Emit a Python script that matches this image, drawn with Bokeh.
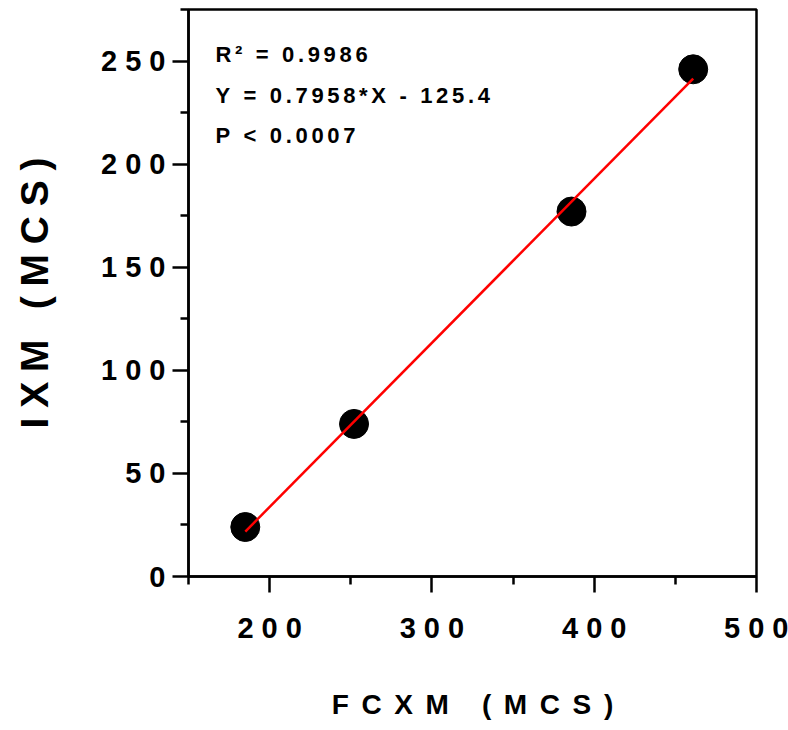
from bokeh.plotting import figure
from bokeh.models import FixedTicker, Range1d, Label
from bokeh.embed import file_html
from bokeh.resources import INLINE

# ---- data ----
fcxm = [185, 252, 386, 461]          # x values (MCS)
ixm = [24, 74, 177, 246]             # y values (MCS)
fit_x = [185, 461]                   # regression line end points (x)
fit_y = [21.8, 241.5]                # regression line end points (y)
x_ticks = [200, 300, 400, 500]
x_minor = [150, 250, 350, 450]
y_ticks = [0, 50, 100, 150, 200, 250]
y_minor = [25, 75, 125, 175, 225, 275]
stats = ["R² = 0.9986", "Y = 0.7958*X - 125.4", "P < 0.0007"]
x_title = "FCXM (MCS)"
y_title = "IXM (MCS)"

FONT = "Liberation Sans"


def spaced(s, sep):
    return sep.join(s)


p = figure(width=788, height=730, output_backend="svg", toolbar_location=None,
           x_range=Range1d(150, 500), y_range=Range1d(0, 275),
           min_border_left=188, min_border_right=32, min_border_top=9,
           min_border_bottom=154)

p.background_fill_color = "white"
p.border_fill_color = "white"
p.outline_line_color = "black"
p.outline_line_width = 2.5
p.xgrid.visible = False
p.ygrid.visible = False

p.xaxis.ticker = FixedTicker(ticks=x_ticks, minor_ticks=x_minor)
p.yaxis.ticker = FixedTicker(ticks=y_ticks, minor_ticks=y_minor)
p.xaxis.major_label_overrides = {t: spaced(str(t), " ") for t in x_ticks}
p.yaxis.major_label_overrides = {t: spaced(str(t), " ") for t in y_ticks}

for ax in (p.xaxis[0], p.yaxis[0]):
    ax.axis_line_color = "black"
    ax.axis_line_width = 2.5
    ax.major_tick_line_color = "black"
    ax.major_tick_line_width = 2.5
    ax.minor_tick_line_color = "black"
    ax.minor_tick_line_width = 2.5
    ax.major_tick_in = 0
    ax.major_tick_out = 16
    ax.minor_tick_in = 0
    ax.minor_tick_out = 8
    ax.major_label_text_font = FONT
    ax.major_label_text_font_style = "bold"
    ax.major_label_text_font_size = "29px"
    ax.major_label_text_color = "black"
    ax.axis_label_text_font = FONT
    ax.axis_label_text_font_style = "bold"
    ax.axis_label_text_color = "black"

p.xaxis.major_label_standoff = 19
p.yaxis.major_label_standoff = 7
p.xaxis.axis_label = spaced(x_title, "\u2009\u2005")
p.xaxis.axis_label_text_font_size = "28px"
p.xaxis.axis_label_standoff = 42
p.yaxis.axis_label = spaced(y_title, "\u2005")
p.yaxis.axis_label_text_font_size = "39px"
p.yaxis.axis_label_standoff = 42

# points, then the fit line drawn on top
p.scatter(fcxm, ixm, size=29, marker="circle", fill_color="black", line_color="black")
p.line(fit_x, fit_y, line_color="red", line_width=2.5)

stat_y = [253.2, 233.3, 213.9]
for s, yy in zip(stats, stat_y):
    p.add_layout(Label(x=166.6, y=yy, text=spaced(s, "\u2006"), text_baseline="middle",
                       text_align="left", text_font=FONT, text_font_style="bold",
                       text_font_size="22px", text_color="black"))

open("out.html", "w").write(file_html(p, INLINE))
